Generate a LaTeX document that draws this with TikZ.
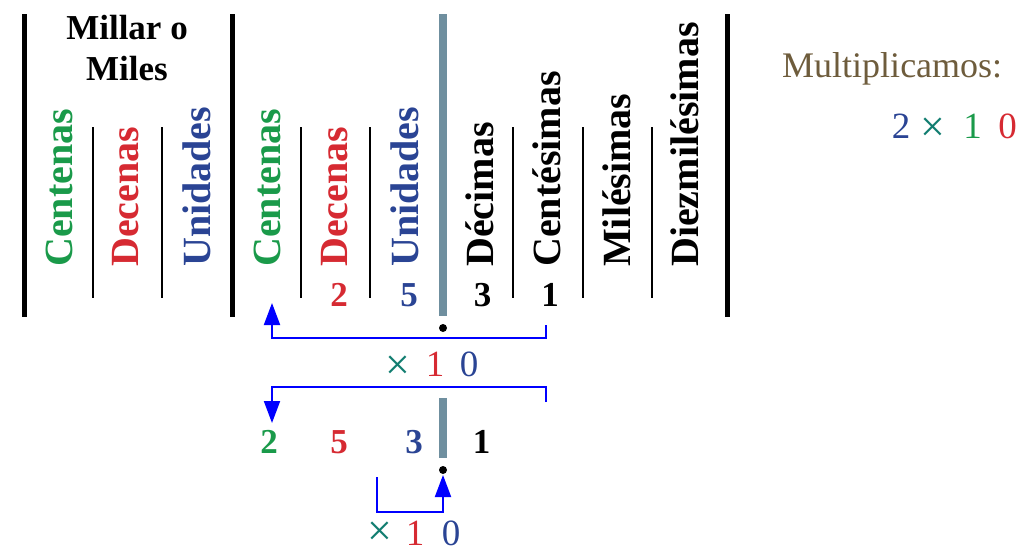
\documentclass[tikz,border=0pt]{standalone}
\usepackage{fontspec}
\setmainfont{Liberation Serif}
\usetikzlibrary{arrows.meta}
\definecolor{cgreen}{HTML}{1A9A4A}
\definecolor{cred}{HTML}{D62A32}
\definecolor{cblue}{HTML}{2A4494}
\definecolor{cteal}{HTML}{117D70}
\definecolor{cbrown}{HTML}{6E5C3C}
\definecolor{cgray}{HTML}{6F8F9F}
\begin{document}
\begin{tikzpicture}[x=1pt,y=-1pt,
  thickbar/.style={line width=5pt},
  thinbar/.style={line width=2pt},
  decbar/.style={line width=8pt, cgray},
  lab/.style={rotate=90, anchor=base west, inner sep=0pt, font=\fontsize{40}{46}\selectfont\bfseries},
  dig/.style={anchor=base, inner sep=0pt, font=\fontsize{35}{40}\selectfont\bfseries},
  op/.style={anchor=base, inner sep=0pt, font=\fontsize{37}{42}\selectfont},
  times/.style={anchor=base, inner sep=0pt, font=\fontsize{44}{48}\selectfont},
  head/.style={anchor=base, inner sep=0pt, font=\fontsize{35}{40}\selectfont\bfseries},
  brk/.style={blue, line width=2pt},
  arr/.style={brk, -{Triangle[length=22pt,width=16pt]}},
  dotnode/.style={circle, fill=black, inner sep=0pt, minimum size=8pt},
]
\useasboundingbox (0,0) rectangle (1034,552);
% main bars
\draw[thickbar] (24.5,14) -- (24.5,317);
\draw[thickbar] (232,14) -- (232,317);
\draw[thickbar] (727.5,14) -- (727.5,317);
\draw[decbar] (443,14) -- (443,316);
% thin separators
\foreach \x in {93,162,301,370,513,583,652}{
  \draw[thinbar] (\x,127) -- (\x,298);
}
% header
\node[head] (millar) at (127,39) {Millar o};
\node[head] (miles) at (127,80) {Miles};
% column labels
\node[lab, cgreen] (l1) at (72,267) {Centenas};
\node[lab, cred] (l2) at (138,267) {Decenas};
\node[lab, cblue] (l3) at (210,267) {Unidades};
\node[lab, cgreen] (l4) at (280,267) {Centenas};
\node[lab, cred] (l5) at (347,267) {Decenas};
\node[lab, cblue] (l6) at (418,267) {Unidades};
\node[lab] (l7) at (493,267) {Décimas};
\node[lab] (l8) at (560,267) {Centésimas};
\node[lab] (l9) at (630,267) {Milésimas};
\node[lab] (l10) at (698,267) {Diezmilésimas};
% digits row 1
\node[dig, cred] (a2) at (339,306) {2};
\node[dig, cblue] (a5) at (409,306) {5};
\node[dig] (a3) at (482.5,306) {3};
\node[dig] (a1) at (550,306) {1};
\node[dotnode] (dot1) at (443,328) {};
% bracket 1
\coordinate (b1s) at (546,325);
\coordinate (b1a) at (546,338);
\coordinate (b1b) at (272,338);
\coordinate (b1t) at (272,303);
\draw[arr] (b1s) -- (b1a) -- (b1b) -- (b1t);
\node[times, cteal] (x1) at (398,379) {×};
\node[op, cred] (x1a) at (435,376) {1};
\node[op, cblue] (x1b) at (469,376) {0};
% bracket 2
\coordinate (b2s) at (546,402);
\coordinate (b2a) at (546,387);
\coordinate (b2b) at (272,387);
\coordinate (b2t) at (272,423);
\draw[arr] (b2s) -- (b2a) -- (b2b) -- (b2t);
% row 2
\draw[decbar] (443,398) -- (443,458);
\node[dig, cgreen] (c2) at (269,453) {2};
\node[dig, cred] (c5) at (339,453) {5};
\node[dig, cblue] (c3) at (414,453) {3};
\node[dig] (c1) at (481.5,453) {1};
\node[dotnode] (dot2) at (443,470) {};
% bracket 3
\coordinate (b3s) at (377,477);
\coordinate (b3a) at (377,512);
\coordinate (b3b) at (443,512);
\coordinate (b3t) at (443,475);
\draw[arr] (b3s) -- (b3a) -- (b3b) -- (b3t);
\node[times, cteal] (x2) at (380,545) {×};
\node[op, cred] (x2a) at (415,545) {1};
\node[op, cblue] (x2b) at (451,545) {0};
% right side
\node[anchor=base west, inner sep=0pt, cbrown, font=\fontsize{36}{40}\selectfont] (mult) at (782,77) {Multiplicamos:};
\node[op, cblue] (r2) at (901,138) {2};
\node[times, cteal] (rx) at (933,141) {×};
\node[op, cgreen] (r1) at (972.5,138) {1};
\node[op, cred] (r0) at (1007.5,138) {0};
\end{tikzpicture}
\end{document}
